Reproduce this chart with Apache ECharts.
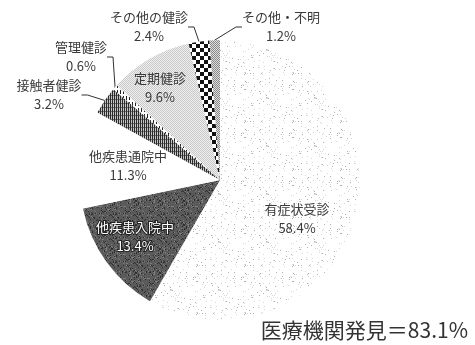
<!DOCTYPE html>
<html>
<head>
<meta charset="utf-8">
<script src="https://cdn.jsdelivr.net/npm/echarts@6/dist/echarts.min.js"></script>
<style>
  html, body { margin: 0; padding: 0; background: #fff; }
  #chart { width: 475px; height: 345px; }
</style>
</head>
<body>
<div id="chart"></div>
<script>
// Breakdown of how cases were found (share of total, %)
const categories = ['有症状受診', '他疾患入院中', '他疾患通院中', '接触者健診', '管理健診', '定期健診', 'その他の健診', 'その他・不明'];
const shares = [58.4, 13.4, 11.3, 3.2, 0.6, 9.6, 2.4, 1.2];
const footnote = '医療機関発見＝83.1%';

// Small tiled textures used as slice fills
function tile(w, h, painter) {
  const c = document.createElement('canvas');
  c.width = w; c.height = h;
  const g = c.getContext('2d');
  for (let y = 0; y < h; y++) {
    for (let x = 0; x < w; x++) {
      g.fillStyle = painter(x, y);
      g.fillRect(x, y, 1, 1);
    }
  }
  return { image: c, repeat: 'repeat' };
}
const hash = (x, y, k) => {
  let h = (x * 374761393 + y * 668265263 + k * 2147483647) | 0;
  h = Math.imul(h ^ (h >>> 13), 1274126177);
  return (h ^ (h >>> 16)) >>> 0;
};

const fills = [
  // sparse grey speckle on white
  tile(48, 48, (x, y) => { const v = hash(x, y, 7) % 60; return v === 0 ? '#b0b0b0' : (v < 3 ? '#d8d8d8' : '#ffffff'); }),
  // dark grey speckle
  tile(24, 24, (x, y) => { const v = hash(x, y, 11) % 8; return v === 0 ? '#2e2e2e' : (v === 1 ? '#7c7c7c' : '#5a5a5a'); }),
  // plain white
  '#ffffff',
  // vertical hatch
  tile(2, 4, (x, y) => (x === 0 ? '#2a2a2a' : (y === 3 ? '#6e6e6e' : '#c4c4c4'))),
  // sparse vertical strokes
  tile(3, 6, (x, y) => (x === 0 && y < 4 ? '#222222' : '#ffffff')),
  // light grey fine dots
  tile(2, 2, (x, y) => ((x + y) % 2 === 0 ? '#c8c8c8' : '#f0f0f0')),
  // checkerboard
  tile(8, 8, (x, y) => (((x >> 2) + (y >> 2)) % 2 === 0 ? '#111111' : '#ffffff')),
  // mid grey fine dots
  tile(2, 2, (x, y) => ((x + y) % 2 === 0 ? '#8a8a8a' : '#dddddd'))
];

// Where each label block sits (centre of the two-line text)
const labelSpots = [
  [297, 219], [135, 237], [128, 166], [49, 95],
  [81, 57], [160, 88], [149, 27], [281, 27]
];
const outsideLabels = [false, false, false, true, true, false, true, true];

const chart = echarts.init(document.getElementById('chart'), null, { renderer: 'canvas' });

chart.setOption({
  animation: false,
  backgroundColor: '#ffffff',
  graphic: [{
    type: 'text',
    right: 7,
    top: 320,
    style: {
      text: footnote,
      font: '21px "Noto Sans CJK JP", sans-serif',
      fill: '#333333'
    }
  }],
  series: [{
    type: 'pie',
    center: [220, 180],
    radius: 140,
    startAngle: 90,
    clockwise: true,
    avoidLabelOverlap: false,
    itemStyle: { borderWidth: 0 },
    emphasis: { disabled: true },
    label: {
      formatter: p => p.name + '\n' + p.value.toFixed(1) + '%',
      fontFamily: '"Noto Sans CJK JP", sans-serif',
      fontSize: 13,
      lineHeight: 19,
      color: '#3a3a3a',
      align: 'center'
    },
    labelLine: {
      show: true,
      length: 6,
      length2: 6,
      smooth: false,
      lineStyle: { color: '#333333', width: 1 }
    },
    labelLayout: p => ({
      x: labelSpots[p.dataIndex][0],
      y: labelSpots[p.dataIndex][1],
      align: 'center',
      verticalAlign: 'middle'
    }),
    data: categories.map((name, i) => {
      const item = {
        name: name,
        value: shares[i],
        itemStyle: { color: fills[i] },
        label: { position: outsideLabels[i] ? 'outside' : 'inside' },
        labelLine: { show: outsideLabels[i] }
      };
      if (i === 1) {
        item.label.color = '#ffffff';
        item.label.textBorderColor = '#222222';
        item.label.textBorderWidth = 2;
      }
      return item;
    })
  }]
});
</script>
</body>
</html>
